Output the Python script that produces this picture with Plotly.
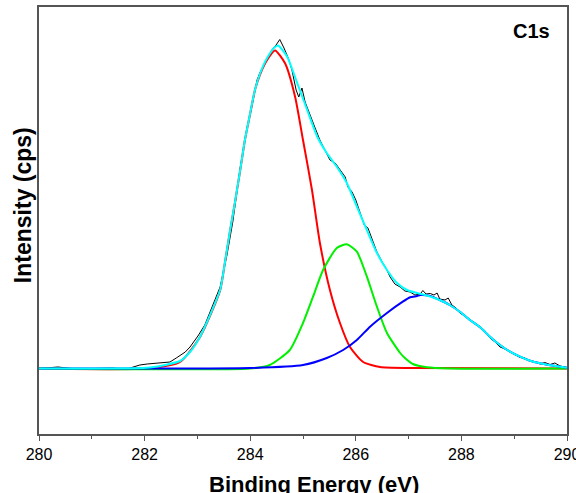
import plotly.graph_objects as go

# Measured spectrum (black)
data_x = [280.00, 280.36, 280.70, 281.06, 281.40, 281.63, 281.82, 281.91, 282.05, 282.20,
          282.35, 282.48, 282.60, 282.77, 282.86, 283.01, 283.14, 283.28, 283.43, 283.56,
          283.67, 283.81, 283.94, 284.03, 284.13, 284.19, 284.26, 284.34, 284.41, 284.49,
          284.56, 284.64, 284.72, 284.79, 284.87, 284.92, 284.98, 285.04, 285.13, 285.23,
          285.32, 285.42, 285.51, 285.61, 285.70, 285.80, 285.85, 285.93, 286.00, 286.08,
          286.16, 286.23, 286.31, 286.40, 286.50, 286.57, 286.65, 286.74, 286.84, 286.93,
          287.03, 287.12, 287.22, 287.27, 287.33, 287.41, 287.48, 287.54, 287.59, 287.69,
          287.75, 287.82, 287.90, 287.97, 288.07, 288.16, 288.26, 288.35, 288.45, 288.54,
          288.64, 288.73, 288.83, 288.92, 289.02, 289.11, 289.20, 289.30, 289.39, 289.49,
          289.58, 289.68, 289.77, 289.87, 290.00]
data_y = [5000, 5150, 4950, 5000, 5050, 4900, 5250, 5350, 5450, 5500,
          5580, 5650, 6050, 6650, 7150, 8250, 9350, 11150, 13150, 16350,
          19650, 25050, 29050, 31150, 33850, 34650, 35250, 36150, 36850, 37350,
          37900, 37050, 36050, 34850, 32850, 32150, 33050, 31650, 30350, 29050,
          27850, 26850, 25850, 25550, 24850, 24150, 23150, 22650, 21850, 20650,
          19350, 19050, 17850, 16650, 15650, 15050, 14150, 13450, 13150, 12750,
          12650, 12350, 12450, 12800, 12450, 12500, 12350, 12550, 11950, 11850,
          12050, 11350, 11050, 10550, 10250, 9850, 9550, 9050, 8750, 8050,
          7650, 7150, 6950, 6650, 6350, 6100, 6050, 5750, 5700, 5450,
          5600, 5400, 5550, 5250, 5100]

# Component 1 (red)
red_x = [280.00, 282.10, 282.67, 283.05, 283.43, 283.52, 283.62, 283.71, 283.81, 283.90,
         284.00, 284.09, 284.19, 284.32, 284.47, 284.66, 284.85, 285.00, 285.17, 285.32,
         285.51, 285.70, 285.89, 286.14, 286.46, 287.03, 290.00]
red_y = [5000, 5020, 5650, 8150, 12800, 15550, 18800, 21550, 24800, 27850,
         30500, 32850, 34450, 35850, 36800, 35520, 32180, 27850, 22850, 17550,
         12850, 9550, 7150, 5650, 5150, 5050, 5000]

# Component 2 (green)
green_x = [280.00, 284.00, 284.37, 284.75, 285.00, 285.19, 285.38, 285.64, 285.83, 286.02,
           286.21, 286.40, 286.59, 286.84, 286.93, 287.08, 287.35, 287.78, 290.00]
green_y = [5000, 5000, 5350, 6850, 9550, 12180, 14850, 17050, 17420, 16680,
           14180, 11180, 8550, 6550, 6050, 5450, 5120, 5000, 5000]

# Component 3 (blue)
blue_x = [280.00, 281.97, 284.00, 285.00, 285.45, 285.76, 286.02, 286.27, 286.59, 286.89,
          287.03, 287.16, 287.22, 287.41, 287.59, 287.78, 287.97, 288.16, 288.35, 288.54,
          288.73, 288.92, 289.11, 289.30, 289.49, 289.68, 290.00]
blue_y = [5000, 5000, 5050, 5350, 6050, 6850, 7850, 9180, 10550, 11680,
          12120, 12250, 12350, 12250, 11850, 11350, 10680, 9850, 9150, 8180,
          7350, 6680, 6180, 5780, 5520, 5320, 5080]

# Envelope (cyan)
env_x = [280.00, 281.97, 282.10, 282.39, 282.67, 282.86, 283.05, 283.24, 283.43, 283.52,
         283.62, 283.71, 283.81, 283.90, 284.00, 284.09, 284.19, 284.32, 284.47, 284.53,
         284.70, 284.89, 285.08, 285.27, 285.45, 285.64, 285.83, 286.02, 286.21, 286.40,
         286.59, 286.78, 286.97, 287.16, 287.41, 287.59, 287.78, 287.97, 288.16, 288.35,
         288.54, 288.73, 288.92, 289.11, 289.30, 289.49, 289.68, 290.00]
env_y = [5000, 5050, 5100, 5350, 5750, 6650, 8180, 10350, 12850, 15550,
         18850, 21550, 24850, 27850, 30550, 32850, 34550, 36050, 37150, 37300,
         36180, 33550, 30850, 28180, 26550, 25180, 23550, 21180, 18850, 16550,
         14850, 13550, 12850, 12550, 12200, 11850, 11350, 10680, 9850, 9150,
         8180, 7350, 6680, 6180, 5780, 5520, 5320, 5080]

x_range = [280, 290]
y_range = [-1550, 41150]
x_tickvals = [280, 282, 284, 286, 288, 290]
x_ticktext = ["280", "282", "284", "286", "288", "290"]

FONT = "Liberation Sans, Arial, sans-serif"

fig = go.Figure()
fig.add_trace(go.Scatter(x=data_x, y=data_y, mode="lines",
                         line=dict(color="black", width=1), name="data"))
fig.add_trace(go.Scatter(x=red_x, y=red_y, mode="lines",
                         line=dict(color="#FF0000", width=2, shape="spline", smoothing=0.6), name="p1"))
fig.add_trace(go.Scatter(x=green_x, y=green_y, mode="lines",
                         line=dict(color="#00F000", width=2, shape="spline", smoothing=0.6), name="p2"))
fig.add_trace(go.Scatter(x=blue_x, y=blue_y, mode="lines",
                         line=dict(color="#0000FF", width=2, shape="spline", smoothing=0.6), name="p3"))
fig.add_trace(go.Scatter(x=env_x, y=env_y, mode="lines",
                         line=dict(color="#00FFFF", width=2, shape="spline", smoothing=0.6), name="sum"))

fig.update_layout(
    width=576, height=493,
    margin=dict(l=39, r=9, t=7, b=59),
    paper_bgcolor="white", plot_bgcolor="white",
    showlegend=False,
    font=dict(family=FONT, color="black"),
    xaxis=dict(
        range=x_range, tickvals=x_tickvals, ticktext=x_ticktext,
        ticks="outside", ticklen=5, tickwidth=1, tickcolor="#555555",
        minor=dict(dtick=1, ticks="outside", ticklen=3, tickwidth=1, tickcolor="#555555"),
        showline=True, linecolor="#555555", linewidth=1.5, mirror=True,
        showgrid=False, zeroline=False, automargin=False,
        ticklabeloverflow="allow",
        tickfont=dict(size=16, family=FONT, color="black"),
    ),
    yaxis=dict(
        range=y_range, showticklabels=False, ticks="",
        showline=True, linecolor="#555555", linewidth=1.5, mirror=True,
        showgrid=False, zeroline=False, automargin=False,
    ),
    annotations=[
        dict(text="<b>C1s</b>", xref="paper", yref="paper", x=0.933, y=0.944,
             xanchor="center", yanchor="middle",
             showarrow=False, font=dict(size=20, family=FONT, color="black")),
        dict(text="<b>Binding Energy (eV)</b>", xref="paper", yref="paper",
             x=0.521, y=-0.084, xanchor="center", yanchor="top",
             showarrow=False, font=dict(size=22, family=FONT, color="black")),
        dict(text="<b>Intensity (cps)</b>", xref="paper", yref="paper",
             x=-0.0303, y=0.536, xanchor="center", yanchor="middle", textangle=-90,
             showarrow=False, font=dict(size=23, family=FONT, color="black")),
    ],
)

fig.write_html("out.html",
               config={"displayModeBar": False},
               post_script="document.body.style.margin='0px';document.body.style.overflow='hidden';")
